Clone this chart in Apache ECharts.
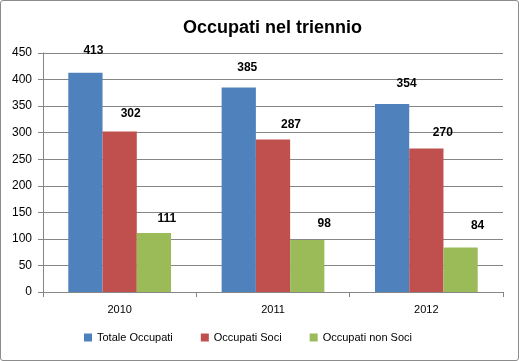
<!DOCTYPE html>
<html><head><meta charset="utf-8">
<script src="https://cdn.jsdelivr.net/npm/echarts@6/dist/echarts.min.js"></script>
<style>
html,body{margin:0;padding:0;background:#fff;}
#frame{position:absolute;left:0;top:0;width:517px;height:359px;border:1px solid #8c8c8c;border-radius:3px;}
#c{position:absolute;left:0;top:0;width:519px;height:361px;}
</style></head><body>
<div id="frame"></div>
<div id="c"></div>
<script>
const categories = ['2010', '2011', '2012'];
const totaleOccupati = [413, 385, 354];
const occupatiSoci = [302, 287, 270];
const occupatiNonSoci = [111, 98, 84];
const seriesNames = ['Totale Occupati', 'Occupati Soci', 'Occupati non Soci'];
// label placement (as positioned in the original chart), per series per category
const labelOffsets = [
  [[8, -10.5], [8.5, -8.5], [14.5, -9]],
  [[11, -6.5], [18, -3.6], [16.5, -4.6]],
  [[13, -3], [17, -5], [17, -10.4]]
];

const chart = echarts.init(document.getElementById('c'));
const font = 'Liberation Sans, Arial, sans-serif';
function build(values, si) {
  return values.map((v, i) => ({value: v, label: {offset: labelOffsets[si][i]}}));
}
const lbl = {show: true, position: 'top', color: '#000', fontWeight: 'bold', fontSize: 12, fontFamily: font};
chart.setOption({
  animation: false,
  title: {text: 'Occupati nel triennio', left: 178, top: 14,
    textStyle: {fontSize: 18, fontWeight: 'bold', color: '#000', fontFamily: font}},
  legend: {bottom: 13, left: 79, itemWidth: 8, itemHeight: 8, itemGap: 28,
    icon: 'rect', textStyle: {fontSize: 11, color: '#000', fontFamily: font},
    data: seriesNames},
  grid: {left: 43, right: 16, top: 53, bottom: 69},
  xAxis: {type: 'category', data: categories,
    axisLine: {lineStyle: {color: '#868686'}},
    axisTick: {show: true, length: 5, lineStyle: {color: '#868686'}},
    axisLabel: {color: '#000', fontSize: 11, fontFamily: font, margin: 12}},
  yAxis: {type: 'value', min: 0, max: 450, interval: 50,
    axisLine: {show: true, lineStyle: {color: '#868686'}},
    axisTick: {show: true, length: 5, lineStyle: {color: '#868686'}},
    splitLine: {lineStyle: {color: '#868686'}},
    axisLabel: {color: '#000', fontSize: 12, fontFamily: font, margin: 11}},
  series: [
    {name: seriesNames[0], type: 'bar', data: build(totaleOccupati, 0), itemStyle: {color: '#4F81BD'},
      barGap: '0%', barCategoryGap: '33%', label: lbl},
    {name: seriesNames[1], type: 'bar', data: build(occupatiSoci, 1), itemStyle: {color: '#C0504D'},
      barGap: '0%', barCategoryGap: '33%', label: lbl},
    {name: seriesNames[2], type: 'bar', data: build(occupatiNonSoci, 2), itemStyle: {color: '#9BBB59'},
      barGap: '0%', barCategoryGap: '33%', label: lbl}
  ]
});
</script>
</body></html>
